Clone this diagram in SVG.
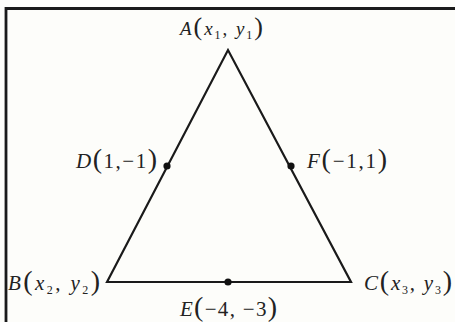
<svg xmlns="http://www.w3.org/2000/svg" width="455" height="322" viewBox="0 0 455 322">
<style>
.t{font-family:"Liberation Serif","Times New Roman",serif;font-size:21px;fill:#222}
.i{font-style:italic}
.s{font-size:12px;font-style:normal}
.p{font-size:28px}
.e{stroke:#1a1a1a;stroke-width:2.2;fill:none;stroke-linejoin:miter}
.d{fill:#111}
</style>
<rect x="0" y="0" width="455" height="322" fill="#fdfdfa"/>
<path d="M6 322 V8.5 H455" stroke="#1a1a1a" stroke-width="2.8" fill="none"/>
<g id="connectors">
<path class="e" d="M107 282 L228 50 L351 282 Z"/>
</g>
<g id="A"><text class="t" x="180" y="35" textLength="83" lengthAdjust="spacing" style="font-size:19px"><tspan class="i">A</tspan><tspan class="p" style="font-size:26px">(</tspan><tspan class="i">x</tspan><tspan class="s" dy="4">1</tspan><tspan dy="-4">, </tspan><tspan class="i">y</tspan><tspan class="s" dy="4">1</tspan><tspan class="p" dy="-4" style="font-size:26px">)</tspan></text></g>
<g id="D"><circle class="d" cx="167" cy="166" r="3.6"/><text class="t" x="76" y="168" textLength="81" lengthAdjust="spacing"><tspan class="i">D</tspan><tspan class="p">(</tspan>1,−1<tspan class="p">)</tspan></text></g>
<g id="F"><circle class="d" cx="291" cy="166" r="3.6"/><text class="t" x="307" y="168" textLength="80" lengthAdjust="spacing"><tspan class="i">F</tspan><tspan class="p">(</tspan>−1,1<tspan class="p">)</tspan></text></g>
<g id="B"><text class="t" x="8" y="290" textLength="92" lengthAdjust="spacing"><tspan class="i">B</tspan><tspan class="p">(</tspan><tspan class="i">x</tspan><tspan class="s" dy="4">2</tspan><tspan dy="-4">, </tspan><tspan class="i">y</tspan><tspan class="s" dy="4">2</tspan><tspan class="p" dy="-4">)</tspan></text></g>
<g id="E"><circle class="d" cx="228" cy="282" r="3.6"/><text class="t" x="180" y="316" textLength="97" lengthAdjust="spacing"><tspan class="i">E</tspan><tspan class="p">(</tspan>−4, −3<tspan class="p">)</tspan></text></g>
<g id="C"><text class="t" x="364" y="290" textLength="88" lengthAdjust="spacing"><tspan class="i">C</tspan><tspan class="p">(</tspan><tspan class="i">x</tspan><tspan class="s" dy="4">3</tspan><tspan dy="-4">, </tspan><tspan class="i">y</tspan><tspan class="s" dy="4">3</tspan><tspan class="p" dy="-4">)</tspan></text></g>
</svg>
